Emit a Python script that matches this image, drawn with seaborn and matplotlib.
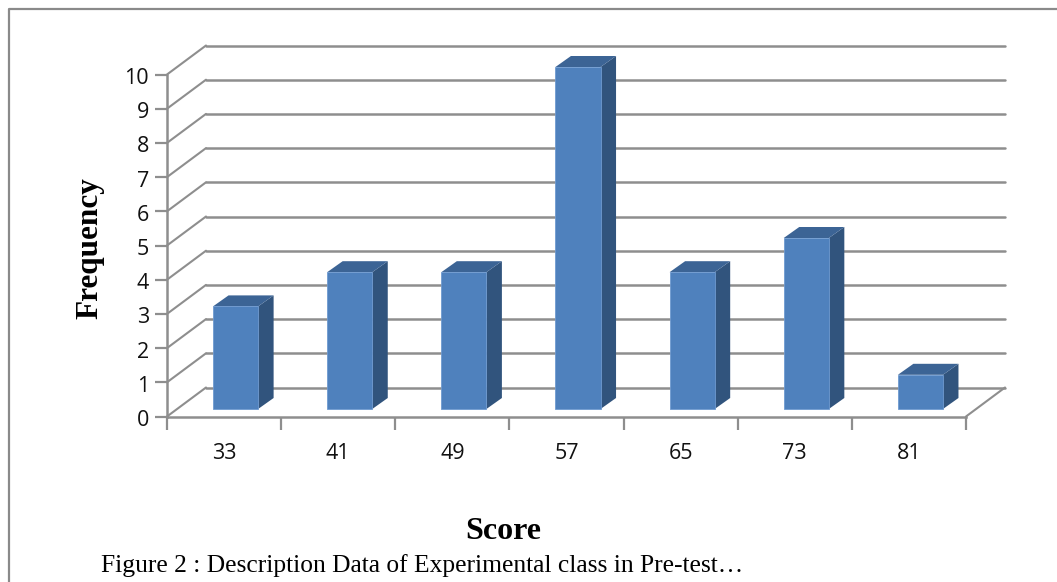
import matplotlib
matplotlib.use("Agg")
import matplotlib.pyplot as plt
from matplotlib.patches import Polygon
from matplotlib.lines import Line2D
from matplotlib.transforms import Affine2D
import pandas as pd
import seaborn as sns

scores = ["33", "41", "49", "57", "65", "73", "81"]
frequency = [3, 4, 4, 10, 4, 5, 1]
y_ticks = list(range(0, 11))
x_title = "Score"
y_title = "Frequency"
caption = "Figure 2 : Description Data of Experimental class in Pre-test\u2026"

W, H = 1057, 582
DPI = 100
FRONT = "#4F81BD"
SIDE = "#31547D"
TOP = "#3C6495"
GRID = "#8E8E8E"
BORDER = "#8A8A8A"
SANS = "Open Sans"
SERIF = "Liberation Serif"

sns.set_theme(style="white")
fig = plt.figure(figsize=(W / DPI, H / DPI), dpi=DPI, facecolor="white")

L, R, T, B = 167, 966, 74.5, 416.5
ax = fig.add_axes([L / W, 1 - B / H, (R - L) / W, (B - T) / H])
ax.patch.set_alpha(0)

df = pd.DataFrame({"score": scores, "frequency": frequency})
sns.barplot(data=df, x="score", y="frequency", color=FRONT, saturation=1,
            width=0.395, ax=ax, zorder=5, edgecolor="#6F9AD0", linewidth=0.6)
ax.set_xlim(-0.5, len(scores) - 0.5)
ax.set_ylim(0, 10)

# perspective offsets in pixels (display y grows upward)
wall = (39, 29)
bar_shift = (11.5, 7.5)
depth = (15.5, 11)

# back wall gridlines, left wall slants and floor
for v in y_ticks:
    ax.add_line(Line2D([-0.5, 6.5], [v, v], transform=ax.transData + Affine2D().translate(wall[0], wall[1]),
                       color=GRID, lw=1.8, clip_on=False, zorder=1))
    x0, y0 = ax.transData.transform((-0.5, v))
    fig.add_artist(Line2D([x0, x0 + wall[0]], [y0, y0 + wall[1]], transform=None,
                          color=GRID, lw=1.5, zorder=1))
x1, y1 = ax.transData.transform((6.5, 0))
fig.add_artist(Line2D([x1, x1 + wall[0]], [y1, y1 + wall[1]], transform=None,
                      color=GRID, lw=1.5, zorder=1))

# 3D bars: shift the front faces and add sides and tops from the same data
shift = Affine2D().translate(bar_shift[0], bar_shift[1])
for patch, val in zip(ax.patches, frequency):
    x = patch.get_x()
    w = patch.get_width()
    patch.set_transform(ax.transData + shift)
    patch.set_clip_on(False)
    (xa, ya), (xb, yb) = ax.transData.transform([(x, 0), (x + w, val)])
    xa += bar_shift[0]; xb += bar_shift[0]
    ya += bar_shift[1]; yb += bar_shift[1]
    dx, dy = depth
    ax.add_patch(Polygon([(xb, ya), (xb + dx, ya + dy), (xb + dx, yb + dy), (xb, yb)],
                         closed=True, transform=None, facecolor=SIDE, edgecolor="none",
                         clip_on=False, zorder=4))
    ax.add_patch(Polygon([(xa, yb), (xa + dx, yb + dy), (xb + dx, yb + dy), (xb, yb)],
                         closed=True, transform=None, facecolor=TOP, edgecolor="none",
                         clip_on=False, zorder=4))

# axes
sns.despine(ax=ax, top=True, right=True)
for s in ("left", "bottom"):
    ax.spines[s].set_color(GRID)
    ax.spines[s].set_linewidth(1.8)
    ax.spines[s].set_zorder(3)
ax.set_yticks(y_ticks)
ax.set_yticklabels([str(v) for v in y_ticks], fontfamily=SANS, fontsize=15.5, color="#111111")
ax.set_xticks([i - 0.5 for i in range(len(scores) + 1)], minor=False)
ax.set_xticklabels([""] * (len(scores) + 1))
ax.set_xticks(range(len(scores)), minor=True)
ax.set_xticklabels(scores, minor=True, fontfamily=SANS, fontsize=15.5, color="#111111")
ax.tick_params(axis="y", which="major", left=True, length=9, width=1.6, color=GRID, pad=4)
ax.tick_params(axis="x", which="major", bottom=True, length=9, width=1.6, color=GRID)
ax.tick_params(axis="x", which="minor", bottom=False, length=0, pad=19)
for lab in ax.get_xticklabels(minor=True) + ax.get_yticklabels():
    lab.set_fontsize(15.5)
for lab in ax.get_yticklabels():
    lab.set_transform(lab.get_transform() + Affine2D().translate(0, -1.5))
ax.set_xlabel("")
ax.set_ylabel("")

fig.text(503 / W, 1 - 531.5 / H, x_title, fontfamily=SERIF, fontweight="bold", fontsize=23,
         ha="center", va="center", color="black")
fig.text(90 / W, 1 - 248 / H, y_title, fontfamily=SERIF, fontweight="bold", fontsize=22.5,
         rotation=90, ha="center", va="center", color="black")
fig.text(101 / W, 1 - 566 / H, caption, fontfamily=SERIF, fontsize=18.4,
         ha="left", va="center", color="black")

# outer chart frame: only the left and top edges are in the crop
fig.add_artist(Line2D([8.5 / W, 8.5 / W, 1], [0, 1 - 8.5 / H, 1 - 8.5 / H],
                      color=BORDER, lw=1.6))

fig.savefig("out.png", dpi=DPI, facecolor="white")
